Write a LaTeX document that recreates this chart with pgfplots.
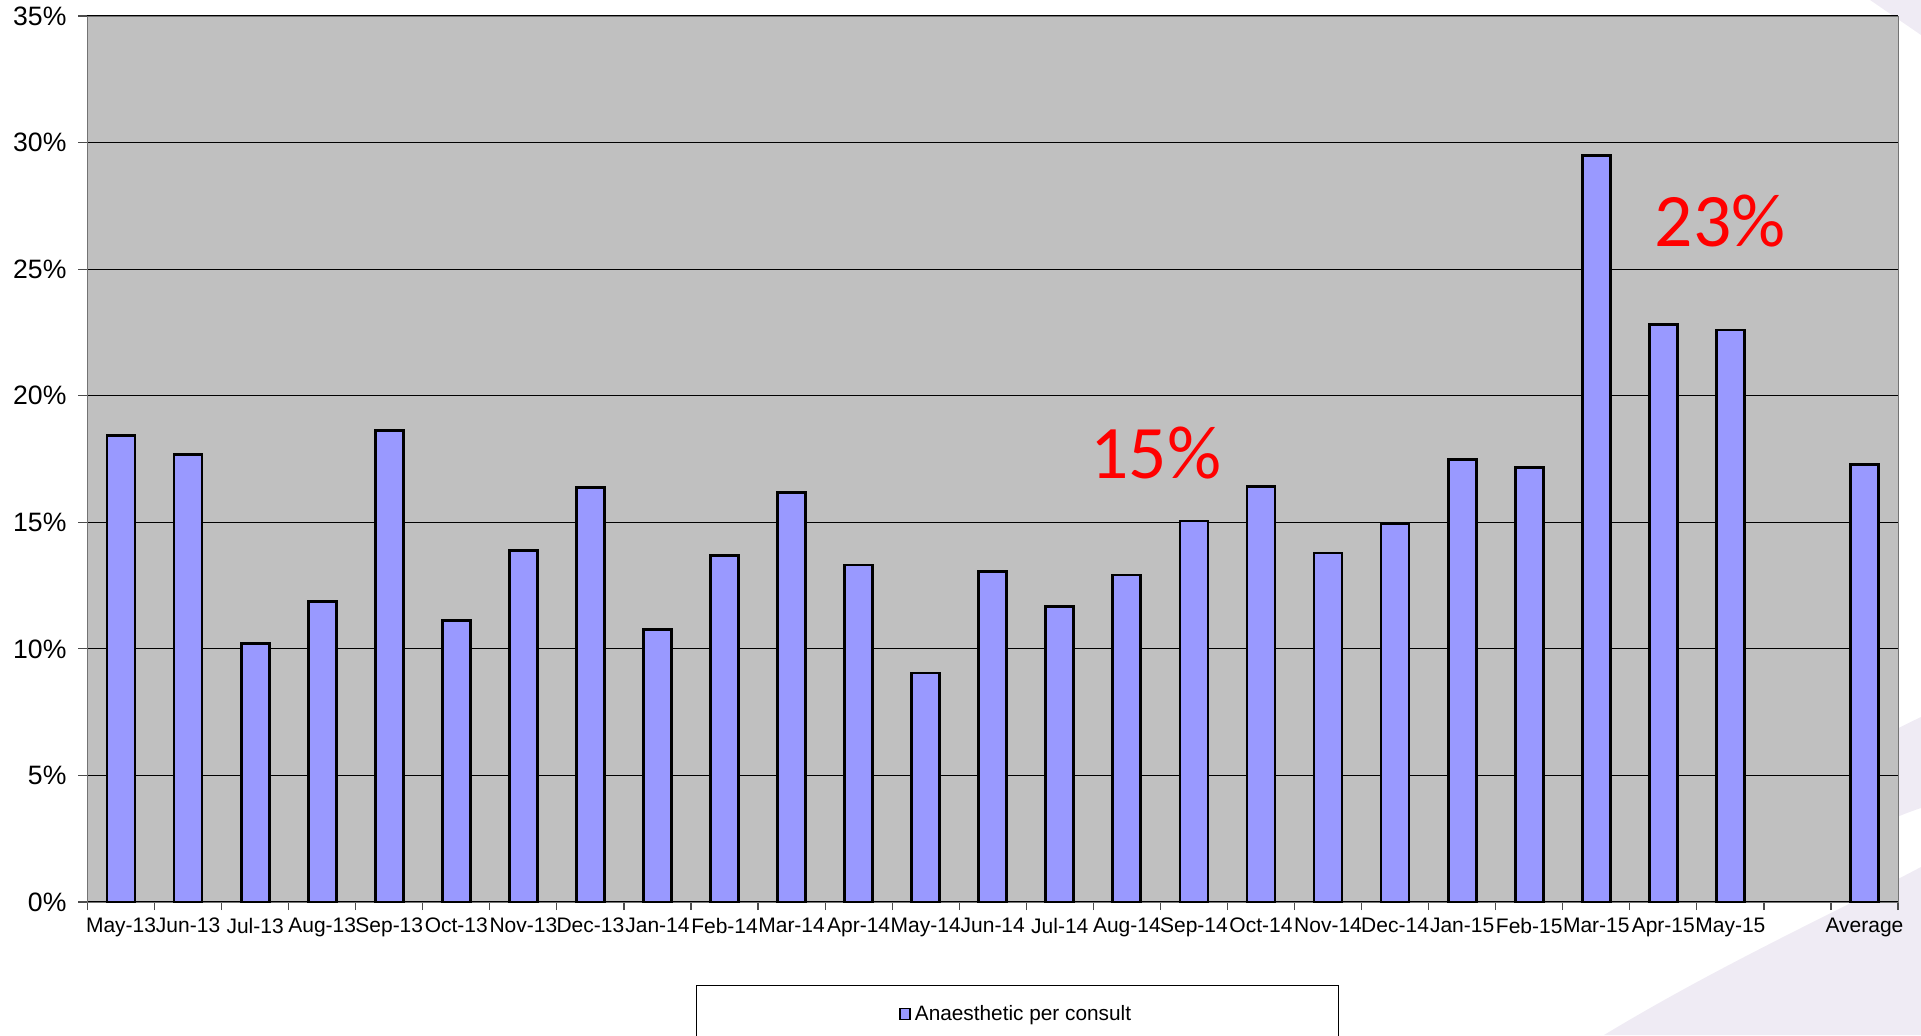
\documentclass[border=0pt]{standalone}
\usepackage{fontspec}
\setmainfont{Liberation Sans}
\newfontfamily\carlito{Carlito}
\usepackage{pgfplots}
\pgfplotsset{compat=1.18}
\definecolor{barblue}{HTML}{9999FF}
\definecolor{plotbg}{HTML}{C0C0C0}
\definecolor{annred}{HTML}{FF0000}
\definecolor{swoosh}{HTML}{EFEBF4}
\begin{document}
\begin{tikzpicture}[x=1pt,y=1pt]
\path[use as bounding box] (0,0) rectangle (960.5,517.5);
% decorative background swooshes
\fill[swoosh] (802,0) .. controls (860,35) and (915,60) .. (960.5,84) -- (960.5,0) -- cycle;
\fill[swoosh] (960.5,159) .. controls (920,140) and (880,110) .. (820,66.5) -- (870,66.5) .. controls (910,90) and (935,105) .. (960.5,113.5) -- cycle;
\fill[swoosh] (935,517.5) -- (960.5,517.5) -- (960.5,500) -- cycle;
\begin{axis}[
  at={(43.75pt,66.5pt)}, anchor=south west,
  scale only axis, width=905.25pt, height=443pt,
  xmin=-0.5, xmax=26.5, ymin=0, ymax=35,
  axis background/.style={fill=plotbg},
  axis line style={draw=black!55},
  ybar, bar width=14pt,
  xtick={0,1,2,3,4,5,6,7,8,9,10,11,12,13,14,15,16,17,18,19,20,21,22,23,24,26},
  xticklabels={May-13,Jun-13,Jul-13,Aug-13,Sep-13,Oct-13,Nov-13,Dec-13,Jan-14,Feb-14,Mar-14,Apr-14,May-14,Jun-14,Jul-14,Aug-14,Sep-14,Oct-14,Nov-14,Dec-14,Jan-15,Feb-15,Mar-15,Apr-15,May-15,Average},
  minor xtick={-0.5,0.5,...,26.5},
  ytick={0,5,10,15,20,25,30,35},
  yticklabel={\pgfmathprintnumber{\tick}\%},
  /pgf/number format/assume math mode=true,
  tick align=outside,
  xtick pos=bottom, ytick pos=left,
  major tick length=4.5pt, minor tick length=4pt,
  major x tick style={draw=none},
  minor x tick style={draw=black!70, line width=0.6pt},
  major y tick style={draw=black!70, line width=0.6pt},
  ymajorgrids, major grid style={draw=black, line width=0.6pt},
  x tick label style={font=\fontsize{10.5}{12}\selectfont, inner xsep=0pt},
  y tick label style={font=\fontsize{13.3}{15}\selectfont, xshift=-2.5pt},
  legend style={at={(axis description cs:0.5135,-0.0937)}, anchor=north, draw=black, fill=white,
    inner xsep=101.5pt, inner ysep=8pt, font=\fontsize{10.4}{12}\selectfont},
  legend image code/.code={\draw[#1, line width=0.8pt] (0pt,-2.6pt) rectangle (5pt,2.9pt);},
]
\addplot[fill=barblue, draw=black, line width=1.4pt] coordinates {
(0,18.44) (1,17.67) (2,10.21) (3,11.86) (4,18.63) (5,11.13) (6,13.89) (7,16.36)
(8,10.75) (9,13.70) (10,16.17) (11,13.31) (12,9.05) (13,13.07) (14,11.66) (15,12.92)
(16,15.05) (17,16.41) (18,13.79) (19,14.96) (20,17.47) (21,17.18) (22,29.48) (23,22.80)
(24,22.60) (26,17.28)
};
\addlegendentry{Anaesthetic per consult}
\node[text=annred, font=\carlito\fontsize{37.8}{42}\selectfont] at (axis cs:15.43,17.74) {15\%};
\node[text=annred, font=\carlito\fontsize{37.8}{42}\selectfont] at (axis cs:23.85,26.9) {23\%};
\end{axis}
\end{tikzpicture}
\end{document}
